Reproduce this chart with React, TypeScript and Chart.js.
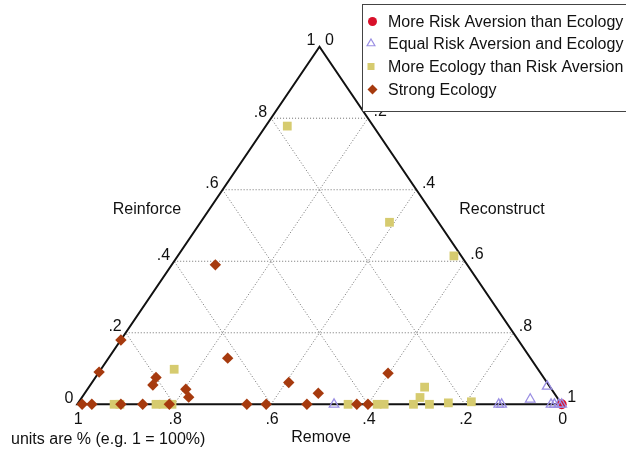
import React, { useEffect, useRef } from "react";
import { Chart, registerables } from "chart.js";

Chart.register(...registerables);

// ---- Data (ternary components) ----
const seriesNames = [
  "More Risk Aversion than Ecology",
  "Equal Risk Aversion and Ecology",
  "More Ecology than Risk Aversion",
  "Strong Ecology",
];

// Reinforce and Remove shares; Reconstruct = 1 - Reinforce - Remove
const riskReinforce = [0];
const riskRemove = [0];

const equalReinforce = [0, 0, 0, 0.014, 0.05, 0, 0, 0, 0];
const equalRemove = [0.47, 0.13, 0.124, 0.058, 0.005, 0.022, 0.015, 0.006, 0];

const moreEcoReinforce = [0.778, 0.509, 0.415, 0.098, 0, 0, 0, 0, 0, 0, 0, 0, 0, 0.019, 0.048, 0, 0.004, 0.007];
const moreEcoRemove = [0.1775, 0.101, 0.015, 0.751, 0.924, 0.912, 0.8375, 0.823, 0.8045, 0.441, 0.381, 0.3665, 0.306, 0.283, 0.259, 0.273, 0.232, 0.183];

const strongReinforce = [0.18, 0.09, 0, 0, 0, 0, 0, 0.075, 0.054, 0.042, 0.02, 0.129, 0, 0, 0.061, 0, 0.031, 0, 0, 0.087, 0.39];
const strongRemove = [0.82, 0.91, 0.99, 0.97, 0.91, 0.865, 0.81, 0.8, 0.817, 0.755, 0.76, 0.625, 0.65, 0.61, 0.533, 0.526, 0.487, 0.423, 0.4, 0.315, 0.52];

const gridValues = [0.2, 0.4, 0.6, 0.8];
const tickValues = [0, 0.2, 0.4, 0.6, 0.8, 1];
const tickLabels = ["0", ".2", ".4", ".6", ".8", "1"];
const axisTitles = ["Reinforce", "Remove", "Reconstruct"];
const noteText = "units are % (e.g. 1 = 100%)";

const colors = ["#d8102a", "#9b8fe3", "#d6cb6f", "#a63a0e"];
const FONT = '16px "Liberation Sans", Arial, sans-serif';

function toXY(reinforce: number[], remove: number[]) {
  return reinforce.map((a, i) => {
    const b = remove[i];
    const c = 1 - a - b;
    return { x: c + a / 2, y: a };
  });
}

const ternaryPlugin = {
  id: "ternary",
  beforeDatasetsDraw(chart: any) {
    const ctx = chart.ctx as CanvasRenderingContext2D;
    const xs = chart.scales.x;
    const ys = chart.scales.y;
    const P = (x: number, y: number) => [xs.getPixelForValue(x), ys.getPixelForValue(y)];
    ctx.save();
    // dotted grid
    ctx.strokeStyle = "#707070";
    ctx.lineWidth = 1;
    ctx.setLineDash([1, 2]);
    const line = (p1: number[], p2: number[]) => {
      ctx.beginPath();
      ctx.moveTo(p1[0], p1[1]);
      ctx.lineTo(p2[0], p2[1]);
      ctx.stroke();
    };
    gridValues.forEach((v) => {
      // Reinforce = v (horizontal)
      line(P(v / 2, v), P(1 - v / 2, v));
      // Remove = v
      line(P(1 - v, 0), P((1 - v) / 2, 1 - v));
      // Reconstruct = v
      line(P(v, 0), P(v + (1 - v) / 2, 1 - v));
    });
    ctx.setLineDash([]);
    // triangle edges
    ctx.strokeStyle = "#111";
    ctx.lineWidth = 2;
    ctx.lineJoin = "miter";
    const A = P(0, 0), B = P(1, 0), C = P(0.5, 1);
    ctx.beginPath();
    ctx.moveTo(A[0], A[1]);
    ctx.lineTo(B[0], B[1]);
    ctx.lineTo(C[0], C[1]);
    ctx.closePath();
    ctx.stroke();

    // tick labels
    ctx.fillStyle = "#111";
    ctx.font = FONT;
    tickValues.forEach((v, i) => {
      const lab = tickLabels[i];
      // left edge: Reinforce
      const l = P(v / 2, v);
      ctx.textAlign = "right";
      ctx.textBaseline = "alphabetic";
      ctx.fillText(lab, l[0] - 4, l[1] - 1.5);
      // right edge: Reconstruct
      const r = P(1 - (1 - v) / 2, 1 - v);
      ctx.textAlign = "left";
      ctx.fillText(lab, r[0] + 5.5, r[1] - 2);
      // bottom: Remove
      const bt = P(1 - v, 0);
      ctx.textAlign = "center";
      ctx.fillText(lab, bt[0] + 1, 424);
    });
    // axis titles
    ctx.textAlign = "center";
    ctx.fillText(axisTitles[0], 147, 214);
    ctx.fillText(axisTitles[2], 502, 214);
    ctx.fillText(axisTitles[1], 321, 442);
    ctx.textAlign = "left";
    ctx.fillText(noteText, 11, 444);
    ctx.restore();
  },
  afterDatasetsDraw(chart: any) {
    const ctx = chart.ctx as CanvasRenderingContext2D;
    ctx.save();
    // legend box
    ctx.fillStyle = "#fff";
    ctx.strokeStyle = "#444";
    ctx.lineWidth = 1;
    ctx.fillRect(362.5, 4.5, 270, 107);
    ctx.strokeRect(362.5, 4.5, 270, 107);
    const rows = [21.5, 43.5, 66.5, 89.5];
    const mx = 372.5;
    rows.forEach((y, i) => {
      ctx.beginPath();
      if (i === 0) {
        ctx.fillStyle = colors[0];
        ctx.arc(mx, y, 4.5, 0, Math.PI * 2);
        ctx.fill();
      } else if (i === 1) {
        ctx.strokeStyle = colors[1];
        ctx.lineWidth = 1.2;
        const r = 4.5;
        ctx.moveTo(mx - 1.5, y - r);
        ctx.lineTo(mx - 1.5 + r * 0.87, y + r / 2);
        ctx.lineTo(mx - 1.5 - r * 0.87, y + r / 2);
        ctx.closePath();
        ctx.stroke();
      } else if (i === 2) {
        ctx.fillStyle = colors[2];
        ctx.fillRect(mx - 5, y - 3.5, 7, 7);
      } else {
        ctx.fillStyle = colors[3];
        const r = 5;
        ctx.moveTo(mx, y - r);
        ctx.lineTo(mx + r, y);
        ctx.lineTo(mx, y + r);
        ctx.lineTo(mx - r, y);
        ctx.closePath();
        ctx.fill();
      }
    });
    ctx.fillStyle = "#111";
    ctx.font = FONT;
    ctx.textAlign = "left";
    ctx.textBaseline = "middle";
    rows.forEach((y, i) => ctx.fillText(seriesNames[i], 388, y + 1));
    ctx.restore();
  },
};

export default function App() {
  const canvasRef = useRef<HTMLCanvasElement | null>(null);
  useEffect(() => {
    if (!canvasRef.current) return;
    const chart = new Chart(canvasRef.current, {
      type: "scatter",
      data: {
        datasets: [
          {
            label: seriesNames[0],
            data: toXY(riskReinforce, riskRemove),
            pointStyle: "circle",
            pointRadius: 5,
            backgroundColor: colors[0],
            borderColor: colors[0],
            borderWidth: 0,
            order: 4,
            clip: false,
          } as any,
          {
            label: seriesNames[1],
            data: toXY(equalReinforce, equalRemove),
            pointStyle: "triangle",
            pointRadius: 5.5,
            backgroundColor: "rgba(0,0,0,0)",
            borderColor: colors[1],
            borderWidth: 1.3,
            order: 3,
            clip: false,
          },
          {
            label: seriesNames[2],
            data: toXY(moreEcoReinforce, moreEcoRemove),
            pointStyle: "rect",
            pointRadius: 6.2,
            backgroundColor: colors[2],
            borderColor: colors[2],
            borderWidth: 0,
            order: 2,
            clip: false,
          },
          {
            label: seriesNames[3],
            data: toXY(strongReinforce, strongRemove),
            pointStyle: "rectRot",
            pointRadius: 5.7,
            backgroundColor: colors[3],
            borderColor: colors[3],
            borderWidth: 0,
            order: 1,
            clip: false,
          },
        ],
      },
      options: {
        animation: false,
        responsive: false,
        devicePixelRatio: 1,
        events: [],
        layout: { padding: { left: 77.3, right: 626 - 561.7, top: 46.7, bottom: 450 - 404.3 } },
        scales: {
          x: { type: "linear", min: 0, max: 1, display: false },
          y: { type: "linear", min: 0, max: 1, display: false },
        },
        plugins: { legend: { display: false }, tooltip: { enabled: false } },
      },
      plugins: [ternaryPlugin],
    });
    return () => chart.destroy();
  }, []);
  return (
    <div style={{ position: "absolute", left: 0, top: 0, width: 626, height: 450, background: "#fff" }}>
      <canvas ref={canvasRef} width={626} height={450} />
    </div>
  );
}
